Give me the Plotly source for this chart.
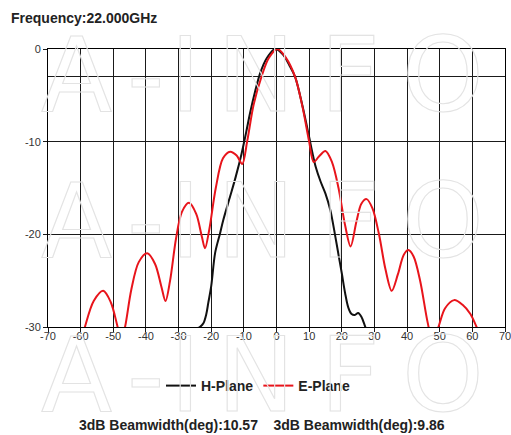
import plotly.graph_objects as go

# ---------------- data ----------------
FREQ_GHZ = 22.000
BEAMWIDTHS = [10.57, 9.86]          # H-Plane, E-Plane 3 dB beamwidth (deg)

H_ANGLE = [-25.0, -23.5, -22.4, -21.5, -20.9, -20.0, -18.8, -17.3, -16.3, -14.2,
           -12.5, -10.7, -9.3, -8.1, -6.5, -5.0, -3.0, -0.4, 2.0, 4.0,
           5.7, 8.0, 10.0, 11.0, 12.0, 13.5, 15.0, 16.5, 17.9, 19.0,
           20.0, 21.0, 22.0, 23.0, 24.0, 25.0, 26.0, 27.0, 27.8]
H_GAIN = [-30.2, -30.0, -29.6, -28.6, -27.4, -25.6, -22.0, -19.9, -18.45, -15.9,
          -13.8, -11.3, -9.0, -6.9, -4.5, -2.6, -1.0, 0.0, -0.6, -1.8,
          -3.0, -6.2, -9.5, -11.2, -12.7, -14.3, -15.6, -17.4, -20.0, -22.2,
          -24.2, -26.3, -27.9, -28.6, -28.7, -28.5, -28.9, -29.8, -30.6]

E_ANGLE = [-59.5, -58.7, -56.0, -53.1, -50.8, -48.8, -47.6, -46.4, -44.5, -42.2,
           -39.6, -37.2, -35.3, -34.0, -32.6, -30.8, -29.0, -26.8, -24.6, -22.9,
           -21.9, -20.6, -18.6, -16.4, -14.2, -12.2, -10.5, -9.0, -7.0, -4.6,
           -2.4, 0.3, 2.8, 5.7, 8.0, 10.0, 11.4, 13.0, 15.0, 17.0,
           19.0, 21.0, 22.7, 24.5, 26.0, 27.6, 29.4, 31.4, 33.4, 35.3,
           37.2, 39.0, 40.4, 42.0, 44.0, 46.3, 47.8, 49.6, 51.6, 54.4,
           57.0, 59.4, 61.3, 62.0]
E_GAIN = [-31.0, -30.0, -27.2, -26.1, -27.3, -29.8, -31.5, -30.0, -26.0, -23.0,
          -22.05, -23.2, -25.6, -27.2, -25.0, -20.5, -17.6, -16.6, -17.8, -20.2,
          -21.5, -19.5, -15.0, -11.8, -11.08, -11.5, -12.4, -10.0, -6.0, -3.0,
          -1.0, 0.0, -0.9, -3.0, -6.3, -10.0, -12.2, -11.6, -11.0, -12.2,
          -15.0, -19.0, -21.3, -18.6, -16.7, -16.2, -17.2, -20.0, -23.8, -26.1,
          -24.3, -22.2, -21.7, -22.4, -25.0, -29.5, -31.5, -30.0, -28.0, -27.1,
          -27.6, -28.6, -30.0, -30.6]

X_TICKS = [-70, -60, -50, -40, -30, -20, -10, 0, 10, 20, 30, 40, 50, 60, 70]
X_LABELS = [str(v) for v in X_TICKS]
Y_TICKS = [0, -10, -20, -30]
Y_LABELS = [str(v) for v in Y_TICKS]
REF_LEVELS = [-3]                    # half-power reference line

SERIES_NAMES = ["H-Plane", "E-Plane"]
SERIES_COLORS = ["#111111", "#e8141b"]

# ---------------- figure ----------------
W, H = 511, 435
ML, MR, MT, MB = 48, 6, 49, 108
FONT = "Liberation Sans, Arial, sans-serif"

fig = go.Figure()
for name, xs, ys, col in [(SERIES_NAMES[0], H_ANGLE, H_GAIN, SERIES_COLORS[0]),
                          (SERIES_NAMES[1], E_ANGLE, E_GAIN, SERIES_COLORS[1])]:
    fig.add_trace(go.Scatter(x=xs, y=ys, mode="lines", name=name,
                             line=dict(color=col, width=2, shape="spline", smoothing=0.9),
                             hoverinfo="skip"))

axis_common = dict(showline=True, mirror=True, linecolor="#000000", linewidth=1,
                   showgrid=True, gridcolor="#1a1a1a", gridwidth=1, zeroline=False,
                   ticks="outside", ticklen=4, tickcolor="#1a1a1a", tickwidth=1,
                   ticklabeloverflow="allow",
                   tickfont=dict(family=FONT, size=11, color="#333333"))

fig.update_xaxes(range=[-70, 70], tickmode="array", tickvals=X_TICKS, ticktext=X_LABELS,
                 ticklabelstandoff=-5, **axis_common)
fig.update_yaxes(range=[-30, 0], tickmode="array", tickvals=Y_TICKS, ticktext=Y_LABELS,
                 minor=dict(tickmode="array", tickvals=REF_LEVELS, showgrid=True,
                            gridcolor="#1a1a1a", gridwidth=1, ticks=""),
                 **axis_common)

def px_to_paper(px, py):
    return (px - ML) / (W - ML - MR), (H - MB - py) / (H - MT - MB)

annotations = []
# faint "A-INFO" watermark rows (outlined via post script)
WM_LETTERS = ["A", "-", "I", "N", "F", "O"]
WM_X = [76, 146, 185, 256, 350, 443]
WM_Y = [75, 221, 375]
for yy in WM_Y:
    for ch, xx in zip(WM_LETTERS, WM_X):
        xp, yp = px_to_paper(xx, yy)
        annotations.append(dict(text=ch, x=xp, y=yp, xref="paper", yref="paper",
                                xanchor="center", yanchor="middle", showarrow=False,
                                font=dict(family="DejaVu Sans, sans-serif", size=104,
                                          color="rgba(0,0,0,0)")))

bx, by = px_to_paper(262, 425)
bw_text = ("3dB Beamwidth(deg):%.2f \u00a0\u00a0\u00a03dB Beamwidth(deg):%.2f"
           % (BEAMWIDTHS[0], BEAMWIDTHS[1]))
annotations.append(dict(text=bw_text, x=bx, y=by, xref="paper", yref="paper",
                        xanchor="center", yanchor="middle", showarrow=False,
                        font=dict(family=FONT, size=14, color="#222222", weight="bold")))

fig.update_layout(
    width=W, height=H,
    margin=dict(l=ML, r=MR, t=MT, b=MB, autoexpand=False),
    paper_bgcolor="white", plot_bgcolor="rgba(0,0,0,0)",
    title=dict(text="Frequency:%.3fGHz" % FREQ_GHZ, xref="container", yref="container",
               x=11 / W, xanchor="left", y=1 - 18 / H, yanchor="middle",
               font=dict(family=FONT, size=14, color="#222222", weight="bold")),
    legend=dict(orientation="h", xref="container", yref="container",
                x=258 / W, xanchor="center", y=1 - 386 / H, yanchor="middle",
                font=dict(family=FONT, size=14, color="#222222", weight="bold"),
                itemwidth=30, bgcolor="rgba(0,0,0,0)"),
    annotations=annotations,
    showlegend=True,
)

post = """
document.body.style.margin = '0';
document.body.style.padding = '0';
var gd = document.getElementById('{plot_id}');
function outline(){
  var nodes = gd.querySelectorAll('.annotation-text');
  nodes.forEach(function(n){
    var t = n.textContent;
    if (t.length === 1) {
      n.style.fill = 'none';
      n.style.stroke = '#e3e3e3';
      n.style.strokeWidth = '1.1px';
    }
  });
}
outline();
gd.on && gd.on('plotly_afterplot', outline);
"""

fig.write_html("out.html", post_script=post, config={"displayModeBar": False})
